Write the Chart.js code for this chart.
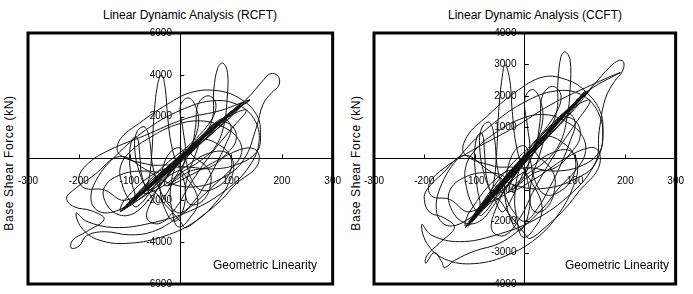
<!DOCTYPE html>
<html>
<head>
<meta charset="utf-8">
<script src="https://cdn.jsdelivr.net/npm/chart.js@4/dist/chart.umd.min.js"></script>
<style>
  html, body { margin:0; padding:0; background:#fff; }
  body { width:693px; height:294px; position:relative; overflow:hidden; font-family: Arial, "Liberation Sans", sans-serif; color:#000; }
  .box { position:absolute; }
  .title { position:absolute; font-size:12px; white-space:nowrap; transform:translateX(-50%); }
  .ytitle { position:absolute; font-size:12px; letter-spacing:0.6px; white-space:nowrap; transform:translate(-50%,-50%) rotate(-90deg); }
  .note { position:absolute; font-size:12px; white-space:nowrap; }
</style>
</head>
<body>
<div class="title" style="left:190px; top:8px;">Linear Dynamic Analysis (RCFT)</div>
<div class="title" style="left:535px; top:8px;">Linear Dynamic Analysis (CCFT)</div>
<div class="ytitle" style="left:9px; top:163px;">Base Shear Force (kN)</div>
<div class="ytitle" style="left:356px; top:163px;">Base Shear Force (kN)</div>
<div class="box" style="left:0px; top:20px; width:350px; height:274px;"><canvas id="c1" width="350" height="274"></canvas></div>
<div class="box" style="left:345px; top:20px; width:348px; height:274px;"><canvas id="c2" width="348" height="274"></canvas></div>
<div class="note" style="left:213px; top:258px;">Geometric Linearity</div>
<div class="note" style="left:565px; top:258px;">Geometric Linearity</div>
<script>
// ---- Data (displacement in mm, base shear in kN) ----
const xTicks = [-300, -200, -100, 0, 100, 200, 300];
const rcftYTicks = [-6000, -4000, -2000, 0, 2000, 4000, 6000];
const ccftYTicks = [-4000, -3000, -2000, -1000, 0, 1000, 2000, 3000, 4000];

// RCFT response, first part
const rcftDisp = [0,15,30,18,-12,-35,-22,25,50,35,-30,-60,-45,-5,45,95,137,105,50,-5,-60,-115,-85,-25,35,
  62,66,74,84,93,92,86,70,40,0,-40,-72,-62,-56,-52,-45,-37,-30,-25,-18,-5,15,32,33,20,3,-8,-15,-20,
  -5,40,85,112,80,20,-40,-98,-65,0,60,122,95,30,-35,-105,-75,-10,60,100,135,160,178,193,194,180,163,150,125,85,30,-25,-70,-120,
  -170,-210,-224,-210,-175,-150,-185,-212,-215,-200,-185,-150,-100,-55,-10,30,70,100,120,115,85,40,-10,-60,-100,-118,-115,-100,-85,
  -40,20,75,128,95,25,-45,-110,-80,-20,-60,-120,-119,-80,-25,20,70,115,150,158,150,110,60,0,-50,-110,-118,-90,-30,20,70,100,137,
  80,10,-70,-140,-180,-200,-190,-150,-110,-60,0,60,105,70,10,-50,-95,-60,-30,0,10,40,80,110,150,153,130,80,20,-30,-20,0];
const rcftForce = [0,300,700,450,-200,-800,-500,500,1100,800,-600,-1300,-1000,-50,1000,2100,2800,2250,1150,0,-1250,-2500,-1850,-450,800,
  1800,3300,4350,4560,4100,2800,1600,600,-100,-700,-1400,-1650,-1000,300,2000,3500,4000,3400,2000,700,-300,-1000,-1700,-2300,-2800,-3250,-3200,-2600,-1600,
  -200,850,1900,2450,1750,420,-880,-2150,-1400,50,1350,2650,2100,700,-700,-2350,-1600,-50,1450,2200,2950,3650,4060,3920,3500,3150,2600,1500,-50,-900,-1350,-1150,-500,100,
  -800,-1500,-1900,-2300,-2500,-2900,-3500,-3900,-4280,-4200,-3700,-3500,-3650,-3500,-2900,-2100,-1200,-500,200,900,1500,1800,1600,1000,300,-400,-1200,-2000,-2300,
  -1000,400,1600,2650,2050,500,-1000,-2400,-1800,-400,-300,200,900,1700,2600,3150,3250,2900,2100,1100,300,-300,-500,-400,-700,-2000,-2500,-1900,-550,450,1500,2200,2800,
  2300,1900,1100,400,-200,-900,-1400,-1500,-2000,-1300,-200,1200,2300,1500,200,-1050,-2050,-1500,-2200,-3000,-3300,-2800,-2000,-1200,-400,300,500,0,-800,-1300,-600,0];
// RCFT response, second part
const rcftDisp2 = [40,90,126,100,50,0,-50,-108,-85,-35,15,70,117,92,40,-15,-70,-112,-90,-40,10,55,100,80,30,-20,-75,-100,-80,
  -30,20,60,70,55,35,30,20,-10,-30,-45,-60,
  -80,-90,-85,-70,-60,-55,-40,-20,0,25,50,70,90,100,85,60,30,-10,-50,-95,-110,-90,
  -95,-100,-95,-85,-80,-75,-60,
  -20,15,35,30,15,0,5,10,0,-25,
  20,60,90,110,100,70,45,30,15,10,20,45,60,55,
  20,75,120,90,35,-20,-80,-118,-95,-45,5,50,105,85,40,-5,-55,-105,-88,-40,
  -70,-120,-150,-145,-120,-90,-60,-30,10,40,
  80,100,95,70,40,20,10,0,-20,-35,-40,-25,-10,5,10,0,
  25,50,30,-25,-50,-30,20,45,25,-20,-45,-25,0];
const rcftForce2 = [1050,2050,2700,2000,950,-100,-1150,-2350,-1700,-600,450,1600,2550,1850,750,-400,-1600,-2450,-1800,-700,300,1250,2250,1600,500,-550,-1700,-2100,-1550,
  -300,700,1800,2600,3000,2600,1500,400,-900,-1800,-2200,-1700,
  -700,500,1300,1500,800,-300,-1500,-2300,-2600,-2100,-1200,-300,700,1500,1900,1500,600,-400,-1300,-2200,-2350,-1900,
  -1200,0,900,1000,200,-900,-1500,
  -700,400,1500,2500,2900,2500,1400,300,-700,-1300,
  -600,-400,200,900,1600,1700,1100,200,-800,-1700,-2200,-2000,-1200,-500,
  400,1700,2650,1950,750,-500,-1800,-2550,-1950,-900,100,1050,2350,1850,850,-150,-1200,-2250,-1850,-800,
  -600,-800,-1400,-2200,-2700,-2600,-1900,-1000,200,900,
  600,0,-800,-1400,-1500,-900,0,500,300,-500,-1500,-2700,-3000,-2500,-1500,0,
  550,1100,600,-550,-1100,-600,450,950,500,-450,-1000,-500,0];
// RCFT response, third part (large excursions)
const rcftDisp3 = [-40,-100,-150,-175,-165,-120,-60,0,60,110,145,155,135,90,20,-60,-130,-185,-205,-195,
  -160,-100,-30,30,70,95,105,90,50,10,-30,-60,-65,-40,-10,20,60,100,130,95,40,0];
const rcftForce3 = [-1200,-2200,-2600,-2100,-1000,300,1500,2300,2750,2600,1900,800,-400,-1500,-2500,-3100,-3300,-3000,-2600,-3300,
  -3900,-4050,-3700,-3000,-2100,-1200,-300,300,200,-400,-1000,-2200,-2900,-3100,-2400,-1200,200,1400,2300,2000,900,0];

// CCFT response, first part
const ccftDisp = [0,15,30,18,-12,-35,-22,25,50,35,-30,-60,-45,-5,45,95,134,105,50,-5,-60,-117,-85,-25,35,
  62,66,72,80,90,90,84,70,40,0,-40,-72,-62,-56,-52,-45,-39,-30,-25,-18,-5,15,32,33,20,3,-8,-15,-20,
  -5,40,85,112,80,20,-40,-98,-65,0,60,122,95,30,-35,-105,-75,-10,60,105,140,168,188,197,193,178,160,148,140,100,40,-20,-70,-120,
  -165,-195,-200,-190,-160,-140,-170,-195,-197,-180,-165,-160,-140,-100,-50,-5,35,70,100,120,115,85,40,-10,-60,-100,-118,-115,-100,-85,
  -40,20,75,128,95,25,-45,-112,-80,-20,-60,-120,-115,-75,-20,37,85,120,150,155,148,110,60,0,-50,-110,-118,-90,-30,20,70,100,134,
  190,120,50,-20,-100,-160,-190,-185,-150,-110,-60,0,60,105,70,10,-50,-95,-60,-30,0,10,40,80,110,145,148,130,80,20,-30,-20,0];
const ccftForce = [0,250,550,350,-150,-650,-400,400,900,650,-500,-1100,-800,-50,800,1650,2250,1800,900,0,-1050,-2190,-1550,-400,650,
  1400,2500,3250,3400,3150,2200,1300,500,-100,-550,-1150,-1350,-800,200,1500,2600,2990,2500,1500,500,-250,-800,-1350,-1800,-2200,-2500,-2450,-2000,-1200,
  -150,700,1500,1950,1400,350,-750,-1850,-1200,50,1100,2100,1700,550,-600,-2000,-1350,-50,1200,1800,2400,2900,3130,3050,2750,2450,1900,900,-150,-650,-950,-850,-400,100,
  -500,-1000,-1300,-1700,-1900,-2200,-2700,-3100,-3340,-3000,-3300,-3480,-3250,-2950,-2700,-2200,-1600,-900,-400,150,700,1150,1400,1250,800,250,-300,-1000,-1600,-1800,
  -800,350,1300,2150,1650,400,-800,-2100,-1500,-350,-250,150,700,1350,2100,2600,2500,2150,1500,800,200,-250,-400,-300,-550,-1700,-2150,-1600,-450,350,1200,1800,2250,
  2740,2250,1700,1000,300,-300,-800,-1200,-1300,-1700,-1100,-150,1000,1850,1250,150,-850,-1700,-1250,-1800,-2400,-2550,-2200,-1600,-1000,-350,200,350,0,-650,-1050,-500,0];
// CCFT response, second part
const ccftDisp2 = [40,90,126,100,50,0,-50,-108,-85,-35,15,70,117,92,40,-15,-70,-112,-90,-40,10,55,100,80,30,-20,-75,-100,-80,
  -30,20,60,72,55,35,30,20,-10,-30,-45,-60,
  -80,-90,-85,-70,-60,-55,-40,-20,0,25,50,70,90,100,85,60,30,-10,-50,-95,-110,-90,
  -95,-100,-95,-85,-80,-75,-60,
  -20,15,35,30,15,0,5,10,0,-25,
  20,60,90,110,100,70,45,30,15,10,20,45,60,55,
  20,75,120,90,35,-20,-80,-118,-95,-45,5,50,105,85,40,-5,-55,-105,-88,-40,
  -70,-120,-150,-145,-120,-90,-60,-30,10,40,
  80,100,95,70,40,20,10,0,-20,-35,-40,-25,-10,5,10,0,
  25,50,30,-25,-50,-30,20,45,25,-20,-45,-25,0];
const ccftForce2 = [850,1650,2150,1600,750,-100,-950,-2050,-1450,-500,350,1300,2050,1500,600,-350,-1350,-2150,-1550,-600,250,1000,1800,1300,400,-450,-1450,-1800,-1300,
  -250,550,1400,2000,2300,2000,1150,300,-700,-1400,-1700,-1300,
  -550,400,1000,1150,600,-250,-1150,-1750,-2000,-1600,-900,-250,550,1150,1450,1150,450,-300,-1000,-1850,-2000,-1600,
  -900,0,700,800,150,-700,-1150,
  -550,300,1150,1900,2200,1900,1050,250,-550,-1000,
  -450,-300,150,700,1200,1300,850,150,-600,-1300,-1700,-1550,-900,-400,
  350,1350,2150,1600,600,-400,-1500,-2200,-1650,-750,100,850,1900,1500,700,-100,-1000,-1950,-1550,-650,
  -450,-600,-1050,-1650,-2050,-2000,-1450,-750,150,700,
  450,0,-600,-1050,-1150,-700,0,400,250,-400,-1150,-2050,-2300,-1900,-1150,0,
  450,900,500,-450,-900,-500,350,800,400,-350,-800,-400,0];
// CCFT response, third part (large excursions)
const ccftDisp3 = [-40,-100,-150,-175,-165,-120,-60,0,60,110,145,155,135,90,20,-60,-130,-185,-205,-195,
  -160,-100,-30,30,70,95,105,90,50,10,-30,-60,-65,-40,-10,20,60,100,130,95,40,0];
const ccftForce3 = [-950,-1800,-2150,-1750,-800,250,1150,1800,2150,2050,1500,600,-300,-1150,-1950,-2450,-2650,-2450,-2100,-2700,
  -3200,-3350,-3050,-2450,-1700,-950,-250,250,150,-300,-800,-1700,-2300,-2450,-1900,-950,150,1100,1850,1600,700,0];

// ---- Helpers ----
function pts(xs, ys) { return xs.map((x, i) => ({x: x, y: ys[i]})); }

const tickFont = {family: 'Arial, "Liberation Sans", sans-serif', size: 10};

const frameAndTicks = {
  id: 'frameAndTicks',
  afterDraw(chart) {
    const {ctx, chartArea: a, scales} = chart;
    const xs = scales.x, ys = scales.y;
    const x0 = xs.getPixelForValue(0), y0 = ys.getPixelForValue(0);
    ctx.save();
    ctx.strokeStyle = '#000';
    ctx.lineWidth = 1;
    ctx.beginPath();
    chart.options.plugins.frameAndTicks.xt.forEach(v => {
      if (v === 0) return;
      const px = Math.round(xs.getPixelForValue(v)) + 0.5;
      ctx.moveTo(px, y0); ctx.lineTo(px, y0 - 4);
    });
    chart.options.plugins.frameAndTicks.yt.forEach(v => {
      if (v === 0) return;
      const py = Math.round(ys.getPixelForValue(v)) + 0.5;
      ctx.moveTo(x0, py); ctx.lineTo(x0 + 4, py);
    });
    ctx.stroke();
    ctx.lineWidth = 3;
    ctx.strokeRect(a.left, a.top, a.right - a.left, a.bottom - a.top);
    ctx.restore();
  }
};

function makeChart(id, xsData, ysData, yTicks, yMax, padding) {
  return new Chart(document.getElementById(id), {
    type: 'scatter',
    data: { datasets: [{
      data: pts(xsData, ysData),
      showLine: true,
      borderColor: '#111',
      borderWidth: 1,
      pointRadius: 0,
      tension: 0.4,
      fill: false
    }]},
    options: {
      responsive: false,
      animation: false,
      devicePixelRatio: 1,
      layout: { padding: padding },
      plugins: { legend: {display: false}, tooltip: {enabled: false}, title: {display: false},
        frameAndTicks: { xt: xTicks, yt: yTicks } },
      scales: {
        x: {
          type: 'linear', min: -300, max: 300,
          position: {y: 0},
          afterBuildTicks: s => { s.ticks = xTicks.map(v => ({value: v})); },
          grid: {display: false},
          border: {display: true, color: '#000', width: 1},
          ticks: { color: '#000', padding: 9, font: tickFont,
                   maxRotation: 0, autoSkip: false,
                   callback: v => (v === 0 ? '' : String(v)) }
        },
        y: {
          type: 'linear', min: -yMax, max: yMax,
          position: {x: 0},
          afterBuildTicks: s => { s.ticks = yTicks.map(v => ({value: v})); },
          grid: {display: false},
          border: {display: true, color: '#000', width: 1},
          ticks: { color: '#000', font: tickFont,
                   autoSkip: false,
                   callback: v => (v === 0 ? '' : String(v) + '   ') }
        }
      }
    },
    plugins: [frameAndTicks]
  });
}

makeChart('c1', rcftDisp.concat(rcftDisp2, rcftDisp3), rcftForce.concat(rcftForce2, rcftForce3), rcftYTicks, 6000, {left: 28, right: 17, top: 13, bottom: 10});
makeChart('c2', ccftDisp.concat(ccftDisp2, ccftDisp3), ccftForce.concat(ccftForce2, ccftForce3), ccftYTicks, 4000, {left: 29, right: 11, top: 13, bottom: 10});
</script>
</body>
</html>
